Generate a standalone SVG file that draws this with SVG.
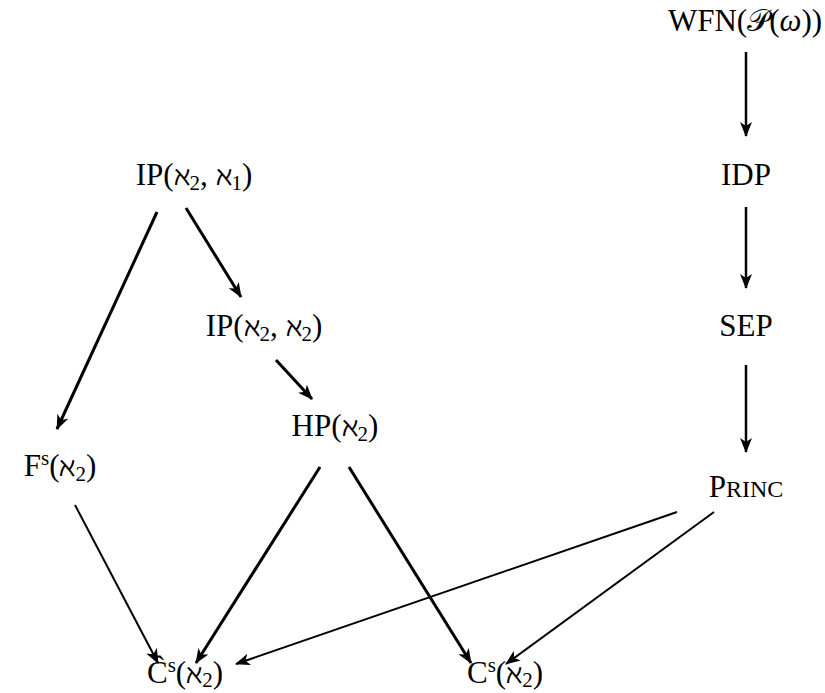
<svg xmlns="http://www.w3.org/2000/svg" width="825" height="693" viewBox="0 0 825 693">
<style>
text{font-family:"Liberation Serif","DejaVu Serif",serif;font-size:31px;fill:#000;text-anchor:middle}
.a{font-family:"DejaVu Serif",serif;font-size:27px}
.sub{font-size:21px}
.sup{font-size:21px}
.sc{font-size:24px}
.it{font-style:italic}
.e{stroke:#000;fill:none}
.thick{stroke-width:3}
.med{stroke-width:2.5}
.thin{stroke-width:2}
</style>
<defs>
<marker id="ahb" viewBox="0 0 15 12" refX="14" refY="6" markerWidth="15" markerHeight="12" markerUnits="userSpaceOnUse" orient="auto">
<path d="M0,0 L15,6 L0,12 L4,6 Z" fill="#000"/>
</marker>
</defs>
<g id="connectors">
<line class="e med" x1="746" y1="52" x2="746" y2="136" marker-end="url(#ahb)"/>
<line class="e med" x1="746" y1="207" x2="746" y2="288" marker-end="url(#ahb)"/>
<line class="e med" x1="746" y1="365" x2="746" y2="452" marker-end="url(#ahb)"/>
<line class="e thick" x1="157" y1="212" x2="57" y2="429" marker-end="url(#ahb)"/>
<line class="e thick" x1="186" y1="208" x2="241" y2="297" marker-end="url(#ahb)"/>
<line class="e thick" x1="276" y1="360" x2="312" y2="399" marker-end="url(#ahb)"/>
<line class="e thick" x1="320" y1="467" x2="196" y2="663" marker-end="url(#ahb)"/>
<line class="e thick" x1="349" y1="467" x2="471" y2="663" marker-end="url(#ahb)"/>
<line class="e thin" x1="75" y1="505" x2="158" y2="663" marker-end="url(#ahb)"/>
<line class="e thin" x1="677" y1="512" x2="236" y2="664" marker-end="url(#ahb)"/>
<line class="e thin" x1="714" y1="512" x2="506" y2="664" marker-end="url(#ahb)"/>
</g>
<g id="wfn"><text x="745" y="31">WFN(𝒫(<tspan class="it">ω</tspan>))</text></g>
<g id="idp"><text x="746" y="185">IDP</text></g>
<g id="sep"><text x="746" y="336">SEP</text></g>
<g id="princ"><text x="746" y="497">P<tspan class="sc">RINC</tspan></text></g>
<g id="ip21"><text x="194" y="185">IP(<tspan class="a">ℵ</tspan><tspan class="sub" dy="5">2</tspan><tspan dy="-5">,  </tspan><tspan class="a">ℵ</tspan><tspan class="sub" dy="5">1</tspan><tspan dy="-5">)</tspan></text></g>
<g id="ip22"><text x="264" y="336">IP(<tspan class="a">ℵ</tspan><tspan class="sub" dy="5">2</tspan><tspan dy="-5">,  </tspan><tspan class="a">ℵ</tspan><tspan class="sub" dy="5">2</tspan><tspan dy="-5">)</tspan></text></g>
<g id="hp"><text x="335" y="436">HP(<tspan class="a">ℵ</tspan><tspan class="sub" dy="5">2</tspan><tspan dy="-5">)</tspan></text></g>
<g id="fs"><text x="60" y="476">F<tspan class="sup" dy="-11">s</tspan><tspan dy="11">(</tspan><tspan class="a">ℵ</tspan><tspan class="sub" dy="5">2</tspan><tspan dy="-5">)</tspan></text></g>
<g id="chat"><text x="185" y="683">Ĉ<tspan class="sup" dy="-11">s</tspan><tspan dy="11">(</tspan><tspan class="a">ℵ</tspan><tspan class="sub" dy="4">2</tspan><tspan dy="-4">)</tspan></text></g>
<g id="cs"><text x="505" y="683">C<tspan class="sup" dy="-11">s</tspan><tspan dy="11">(</tspan><tspan class="a">ℵ</tspan><tspan class="sub" dy="4">2</tspan><tspan dy="-4">)</tspan></text></g>
</svg>
